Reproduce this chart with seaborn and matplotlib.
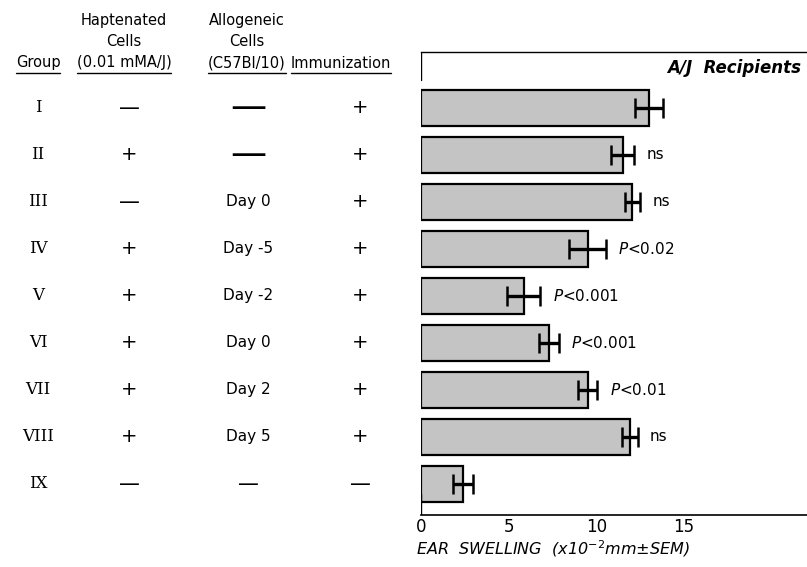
import numpy as np
import pandas as pd
import matplotlib
matplotlib.use("Agg")
import matplotlib.pyplot as plt
import matplotlib.transforms as mtransforms
import seaborn as sns

# data
groups = ["I", "II", "III", "IV", "V", "VI", "VII", "VIII", "IX"]
haptenated = ["—", "+", "—", "+", "+", "+", "+", "+", "—"]
allogeneic = ["——", "——", "Day 0", "Day -5", "Day -2", "Day 0", "Day 2", "Day 5", "—"]
immunization = ["+", "+", "+", "+", "+", "+", "+", "+", "—"]
swelling = [13.0, 11.5, 12.05, 9.5, 5.85, 7.3, 9.5, 11.9, 2.4]
sem = [0.8, 0.65, 0.45, 1.05, 0.95, 0.55, 0.55, 0.45, 0.55]
signif = ["", "ns", "ns", "$P$<0.02", "$P$<0.001", "$P$<0.001", "$P$<0.01", "ns", ""]

df = pd.DataFrame({"group": groups, "swelling": swelling, "sem": sem})

sns.set_style("white")
plt.rcParams["font.family"] = ["DejaVu Sans"]
plt.rcParams["text.color"] = "black"
plt.rcParams["xtick.color"] = "black"
plt.rcParams["xtick.labelcolor"] = "black"

fig = plt.figure(figsize=(8.07, 5.67), dpi=100)
ax = fig.add_axes([0.5217, 0.0917, 0.4783, 0.8166])

sns.barplot(data=df, x="swelling", y="group", orient="h", width=0.75,
            color="#c4c4c4", edgecolor="black", linewidth=1.6,
            errorbar=None, saturation=1, ax=ax)
ypos = np.arange(len(groups))
ax.errorbar(df["swelling"], ypos, xerr=df["sem"], fmt="none",
            ecolor="black", elinewidth=2.4, capsize=7, capthick=1.8)

for y, (m, s, lab) in enumerate(zip(swelling, sem, signif)):
    if lab:
        ax.text(m + s + 0.7, y, lab, va="center", ha="left", fontsize=11)

ax.set_xlim(0, 22)
ax.set_ylim(8.66, -1.19)
ax.set_xticks([0, 5, 10, 15])
ax.set_xticklabels(["0", "5", "10", "15"], fontsize=12)
ax.tick_params(axis="x", direction="in", length=9, width=1, pad=2)
ax.set_yticks([])
ax.set_xlabel("")
ax.set_ylabel("")
for side in ["right", "left"]:
    ax.spines[side].set_visible(False)
ax.spines["top"].set_linewidth(1)
ax.spines["top"].set_color("black")
ax.spines["bottom"].set_linewidth(1.2)
ax.spines["bottom"].set_color("black")
# partial left spine, only at the top and bottom
ax.axvline(0, ymin=0.94, ymax=1.0, color="black", lw=1)
ax.axvline(0, ymin=0.0, ymax=0.045, color="black", lw=1)

ax.text(0.985, 0.965, "A/J  Recipients", transform=ax.transAxes, ha="right",
        va="center", fontsize=12, fontstyle="italic", fontweight="bold")

fig.text(0.516, 0.033, r"EAR  SWELLING  (x10$^{-2}$mm$\pm$SEM)",
         ha="left", va="center", fontsize=11.5, fontstyle="italic")


def cell(x, y, s):
    # long dash is drawn as one em dash at a larger size
    if s == "——":
        fig.text(x, y, "—", transform=tr, ha="center", va="center", fontsize=26)
    elif s == "—":
        fig.text(x, y, "—", transform=tr, ha="center", va="center", fontsize=15)
    elif s == "+":
        fig.text(x, y, s, transform=tr, ha="center", va="center", fontsize=14)
    else:
        fig.text(x, y, s, transform=tr, ha="center", va="center", fontsize=11)


# left-hand table
tr = mtransforms.blended_transform_factory(fig.transFigure, ax.transData)
col_x = [38 / 807, 129 / 807, 248 / 807, 360 / 807]
for y in ypos:
    fig.text(col_x[0], y, groups[y], transform=tr, ha="center", va="center",
             fontsize=12, family="DejaVu Serif")
    cell(col_x[1], y, haptenated[y])
    cell(col_x[2], y, allogeneic[y])
    cell(col_x[3], y, immunization[y])

hdr = [
    (38, ["Group"]),
    (124, ["Haptenated", "Cells", "(0.01 mMA/J)"]),
    (247, ["Allogeneic", "Cells", "(C57Bl/10)"]),
    (341, ["Immunization"]),
]
line_y = [20, 42, 63]
under = []
for cx, lines in hdr:
    for i, s in enumerate(reversed(lines)):
        t = fig.text(cx / 807, 1 - line_y[2 - i] / 567, s, ha="center",
                     va="center", fontsize=10.5)
        if i == 0:
            under.append(t)

fig.canvas.draw()
r = fig.canvas.get_renderer()
for t in under:
    bb = t.get_window_extent(r).transformed(fig.transFigure.inverted())
    fig.add_artist(plt.Line2D([bb.x0, bb.x1], [bb.y0 - 0.004, bb.y0 - 0.004],
                              transform=fig.transFigure, color="black", lw=1))

fig.savefig("out.png", dpi=100)
